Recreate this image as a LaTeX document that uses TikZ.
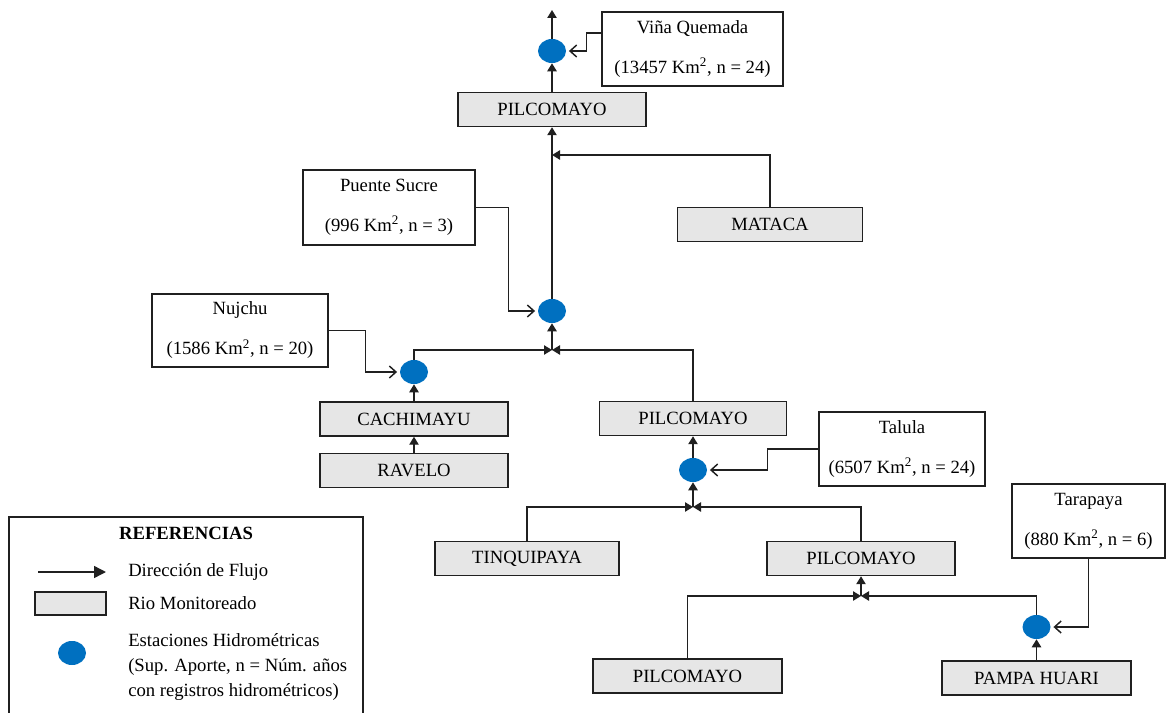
\documentclass[tikz,border=0pt]{standalone}
\usepackage{fontspec}
\setmainfont{Liberation Serif}
\usetikzlibrary{arrows.meta,shapes.geometric}
\definecolor{boxgray}{HTML}{E6E6E6}
\definecolor{stblue}{HTML}{0070C0}
\definecolor{lineclr}{HTML}{202020}
\tikzset{
  river/.style={draw=lineclr, line width=1.1pt, fill=boxgray, inner sep=0pt, minimum height=25.5pt},
  station/.style={ellipse, fill=stblue, draw=none, minimum width=21pt, minimum height=18pt, inner sep=0pt},
  infobox/.style={draw=lineclr, line width=1.1pt, fill=white, align=center, inner sep=0pt},
  flow/.style={draw=lineclr, line width=1.1pt, -{Triangle[length=6pt,width=7pt]}},
  feed/.style={draw=lineclr, line width=1.1pt, -{Straight Barb[length=5pt,width=9pt]}, shorten >=2pt},
  legtext/.style={anchor=west, inner sep=0pt},
}
\begin{document}
\begin{tikzpicture}[x=0.75pt, y=-0.75pt, font=\fontsize{14pt}{16pt}\selectfont]
\useasboundingbox (0,0) rectangle (1167,713);

% river boxes
\node[river, minimum width=141pt]    (topP)   at (552,109.5)  {PILCOMAYO};
\node[river, minimum width=138.75pt] (mataca) at (770,224.5)  {MATACA};
\node[river, minimum width=141pt]    (cachi)  at (414,419)    {CACHIMAYU};
\node[river, minimum width=141pt]    (ravelo) at (414,470.5)  {RAVELO};
\node[river, minimum width=140.25pt] (midP)   at (693,418.5)  {PILCOMAYO};
\node[river, minimum width=138pt]    (tinq)   at (527,558.5)  {TINQUIPAYA};
\node[river, minimum width=141pt]    (lowP)   at (861,558.5)  {PILCOMAYO};
\node[river, minimum width=141.75pt] (botP)   at (687.5,676)  {PILCOMAYO};
\node[river, minimum width=141.75pt] (pampa)  at (1036.5,678) {PAMPA HUARI};

% station info boxes
\node[infobox, minimum width=135.75pt, minimum height=55.5pt]  (vinaB)   at (692.5,49)   {Viña Quemada\\[14pt](13457 Km\textsuperscript{2}, n = 24)};
\node[infobox, minimum width=129pt,    minimum height=56.25pt] (puenteB) at (389,207.5)  {Puente Sucre\\[14pt](996 Km\textsuperscript{2}, n = 3)};
\node[infobox, minimum width=132pt,    minimum height=54.75pt] (nujchuB) at (240,330.5)  {Nujchu\\[14pt](1586 Km\textsuperscript{2}, n = 20)};
\node[infobox, minimum width=124.5pt,  minimum height=55.5pt]  (talulaB) at (902,449)    {Talula\\[14pt](6507 Km\textsuperscript{2}, n = 24)};
\node[infobox, minimum width=114.75pt, minimum height=55.5pt]  (tarapB)  at (1088.5,521) {Tarapaya\\[14pt](880 Km\textsuperscript{2}, n = 6)};

% stations
\node[station] (vinaC)   at (552,51)    {};
\node[station] (puenteC) at (552,311)   {};
\node[station] (cachiC)  at (414,372)   {};
\node[station] (talulaC) at (693,470)   {};
\node[station] (pampaC)  at (1036.5,627) {};

% junctions
\coordinate (topEnd) at (552,10);
\coordinate (mj) at (552,155);
\coordinate (J1) at (552,350);
\coordinate (J2) at (693,507);
\coordinate (J3) at (861,596);

% flow arrows
\draw[flow] (vinaC.north) -- (topEnd);
\draw[flow] (topP.north) -- (vinaC.south);
\draw[flow] (puenteC.north) -- (topP.south);
\draw[flow] (mataca.north) |- (mj);
\draw[flow] (cachiC.north) |- (J1);
\draw[flow] (midP.north) |- (J1);
\draw[flow] (J1) -- (puenteC.south);
\draw[flow] (cachi.north) -- (cachiC.south);
\draw[flow] (ravelo.north) -- (cachi.south);
\draw[flow] (talulaC.north) -- (midP.south);
\draw[flow] (J2) -- (talulaC.south);
\draw[flow] (tinq.north) |- (J2);
\draw[flow] (lowP.north) |- (J2);
\draw[flow] (J3) -- (lowP.south);
\draw[flow] (botP.north) |- (J3);
\draw[flow] (pampaC.north) |- (J3);
\draw[flow] (pampa.north) -- (pampaC.south);

% station feeds
\draw[feed] (vinaB.west |- 0,33) -- ++(-15,0) |- (vinaC.east);
\draw[feed] (puenteB.east) -- ++(33,0) |- (puenteC.west);
\draw[feed] (nujchuB.east) -- ++(37,0) |- (cachiC.west);
\draw[feed] (talulaB.west) -- ++(-51,0) |- (talulaC.east);
\draw[feed] (tarapB.south) |- (pampaC.east);

% legend
\node[draw=lineclr, line width=1.1pt, minimum width=265.5pt, minimum height=154.5pt, inner sep=0pt] (legend) at (186,620) {};
\node[font=\fontsize{14pt}{16pt}\selectfont\bfseries] (legtitle) at (186,533) {REFERENCIAS};
\coordinate (la1) at (38,572);
\coordinate (la2) at (106,572);
\draw[draw=lineclr, line width=1.1pt, -{Triangle[length=9pt,width=9pt]}] (la1) -- (la2);
\node[legtext] (lt1) at (128,572) {Dirección de Flujo};
\node[river, minimum width=53.25pt, minimum height=17.25pt] (legrect) at (70.5,603.5) {};
\node[legtext] (lt2) at (128,603.5) {Rio Monitoreado};
\node[station] (legcirc) at (72,653) {};
\node[legtext, align=left, font=\fontsize{14pt}{18.75pt}\selectfont] (lt3) at (128,667) {Estaciones Hidrométricas\\(Sup. Aporte, n = Núm. años\\con registros hidrométricos)};
\end{tikzpicture}
\end{document}
